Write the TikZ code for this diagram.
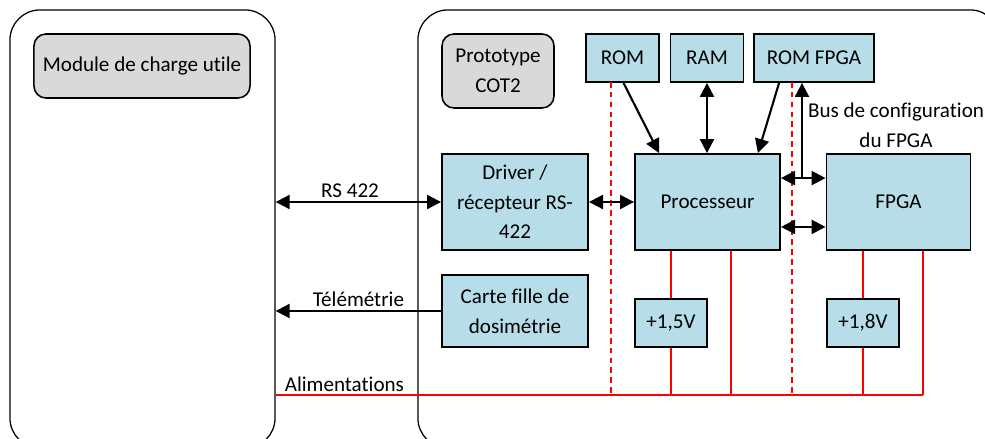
\documentclass[tikz,border=0pt]{standalone}
\usepackage{fontspec}
\setmainfont{Carlito}[Ligatures=NoCommon]
\usetikzlibrary{arrows.meta, positioning, calc}
\definecolor{cblue}{HTML}{B7DDE8}
\definecolor{cgrey}{HTML}{D9D9D9}
\definecolor{cred}{HTML}{FF0000}
\tikzset{
  every picture/.style={font=\fontsize{15}{21}\selectfont, line width=1.1pt},
  outer/.style={draw=black, rounded corners=0.75cm, line width=0.9pt, inner sep=0pt},
  tag/.style={draw=black, fill=cgrey, rounded corners=0.3cm, align=center, inner sep=2pt},
  blk/.style={draw=black, fill=cblue, align=center, inner sep=2pt, line width=1.3pt},
  arrow/.style={-{Triangle[length=10pt, width=10pt]}, draw=black, line width=1.5pt},
  arrows2/.style={{Triangle[length=10pt, width=10pt]}-{Triangle[length=10pt, width=10pt]}, draw=black, line width=1.5pt},
  pwr/.style={draw=cred, line width=1pt},
  sep/.style={draw=cred, line width=0.9pt, dash pattern=on 4pt off 3pt},
  lbl/.style={inner sep=2pt},
}

\begin{document}
\begin{tikzpicture}[x=0.025cm, y=-0.025cm]
  \useasboundingbox (0,0) rectangle (985,439);
  \clip (0,0) rectangle (985,439);
  % containers
  \node[outer, minimum width=6.625cm, minimum height=10.95cm] (module) at (142.5, 229) {};
  \node[outer, minimum width=14.55cm, minimum height=10.95cm] (proto) at (709, 229) {};
  \node[tag, minimum width=5.4cm, minimum height=1.6cm] (mtag) at (142, 66) {Module de charge utile};
  \node[tag, minimum width=2.8cm, minimum height=1.85cm] (ptag) at (498, 71) {Prototype\\COT2};
  % memories
  \node[blk, minimum width=1.825cm, minimum height=1.2cm] (rom) at (622.5, 58) {ROM};
  \node[blk, minimum width=1.825cm, minimum height=1.2cm] (ram) at (707, 58) {RAM};
  \node[blk, minimum width=3.0cm, minimum height=1.2cm] (romf) at (814, 58) {ROM FPGA};
  % main blocks
  \node[blk, minimum width=3.65cm, minimum height=2.4cm] (drv) at (515, 202) {Driver /\\récepteur RS-\\422};
  \node[blk, minimum width=3.625cm, minimum height=2.4cm] (proc) at (707.5, 202) {Processeur};
  \node[blk, minimum width=3.6cm, minimum height=2.4cm] (fpga) at (898.5, 202) {FPGA};
  \node[blk, minimum width=3.65cm, minimum height=1.8cm] (dosi) at (515, 311) {Carte fille de\\dosimétrie};
  \node[blk, minimum width=1.8cm, minimum height=1.2cm] (p15) at (671, 323) {+1,5V};
  \node[blk, minimum width=1.8cm, minimum height=1.2cm] (p18) at (863, 323) {+1,8V};
  \coordinate (t1) at (731, 395);
  \coordinate (t2) at (923, 395);
  \coordinate (cfg) at (802, 179);
  % separations
  \draw[sep] (611, 82) -- (611, 393);
  \draw[sep] (792, 82) -- (792, 393);
  % links to the payload module
  \draw[arrows2] (module.east |- drv) -- node[lbl, above, pos=0.45] {RS 422} (drv);
  \draw[arrow] (dosi) -- node[lbl, above] {Télémétrie} (module.east |- dosi);
  \draw[pwr] (module.east |- t2) -- node[lbl, above right, pos=0, xshift=4pt] {Alimentations} (t2);
  % buses
  \draw[arrows2] (drv) -- (proc);
  \draw[arrow] ($(rom.south)+(1,0)$) -- ($(proc.north west)+(25,0)$);
  \draw[arrows2] (ram) -- (ram |- proc.north);
  \draw[arrow] ($(romf.south west)+(26,0)$) -- ($(proc.north east)+(-23,0)$);
  \draw[arrows2] ($(proc.north east)+(0,25)$) -- ($(fpga.north west)+(0,25)$);
  \draw[arrow] (cfg) -- (cfg |- romf.south);
  \draw[arrows2] ($(proc.south east)+(0,-24)$) -- ($(fpga.south west)+(0,-24)$);
  \node[lbl, align=center] (cfglbl) at (896, 125) {Bus de configuration\\du FPGA};
  % power
  \draw[pwr] (p15.north) -- (p15 |- proc.south);
  \draw[pwr] (p15.south) -- (p15 |- t1);
  \draw[pwr] (proc.south -| t1) -- (t1);
  \draw[pwr] (p18.north) -- (p18 |- fpga.south);
  \draw[pwr] (p18.south) -- (p18 |- t2);
  \draw[pwr] (fpga.south -| t2) -- (t2);
\end{tikzpicture}
\end{document}
